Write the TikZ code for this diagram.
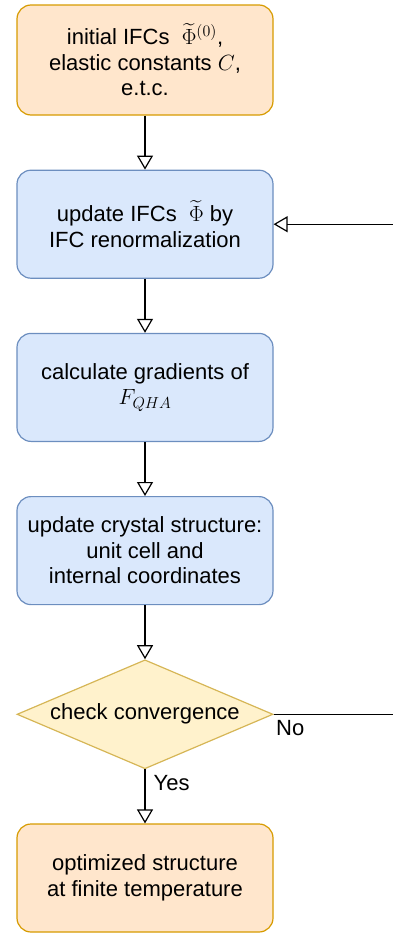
\RequirePackage{fix-cm}
\documentclass[tikz,border=0pt]{standalone}
\usepackage{amsmath}
\usepackage[no-math]{fontspec}
\setmainfont{Liberation Sans}
\usetikzlibrary{arrows.meta, positioning, shapes.geometric}
\DeclareMathSizes{22}{22}{16}{12}

\definecolor{startfill}{HTML}{FFE6CC}
\definecolor{startdraw}{HTML}{D79B00}
\definecolor{stepfill}{HTML}{DAE8FC}
\definecolor{stepdraw}{HTML}{6C8EBF}
\definecolor{checkfill}{HTML}{FFF2CC}
\definecolor{checkdraw}{HTML}{D6B656}

\begin{document}
\begin{tikzpicture}[x=1pt, y=-1pt,
    node distance=54pt,
    box/.style={draw, line width=1.2pt, rounded corners=14pt, minimum width=256pt, minimum height=108pt, align=center, font=\fontsize{22}{25.5}\selectfont},
    termbox/.style={box, fill=startfill, draw=startdraw},
    stepbox/.style={box, fill=stepfill, draw=stepdraw},
    checkbox/.style={diamond, draw=checkdraw, fill=checkfill, line width=1.2pt, aspect=2.35, inner sep=0pt, minimum width=256pt, minimum height=109pt, font=\fontsize{22}{25.5}\selectfont},
    arr/.style={-{Triangle[open, length=14pt, width=16pt]}, line width=1.2pt},
    lbl/.style={font=\fontsize{22}{25.5}\selectfont, inner sep=2pt}
]
\useasboundingbox (0,0) rectangle (392,937);

% Start - initial values
\node[termbox, minimum height=110pt] (init) at (145,60) {initial IFCs \ $\widetilde{\Phi}^{(0)}$,\\elastic constants $C$,\\e.t.c.};

% Iteration steps
\node[stepbox, below=of init] (renorm) {update IFCs \ $\widetilde{\Phi}$ by\\IFC renormalization};
\node[stepbox, below=of renorm] (grad) {calculate gradients of\\$F_{QHA}$};
\node[stepbox, below=of grad] (struct) {update crystal structure:\\unit cell and\\internal coordinates};

% Convergence check
\node[checkbox, below=of struct] (conv) {check convergence};

% End - result
\node[termbox, below=of conv] (final) {optimized structure\\at finite temperature};

% Downward arrows
\draw[arr] (init) -- (renorm);
\draw[arr] (renorm) -- (grad);
\draw[arr] (grad) -- (struct);
\draw[arr] (struct) -- (conv);
\draw[arr] (conv) -- node[lbl, pos=0.25, right=6pt] {Yes} (final);

% Feedback loop when not converged
\coordinate (back) at ([xshift=125pt]conv.east);
\draw[arr] (conv.east) -- node[lbl, pos=0, anchor=north west, yshift=-3pt] {No} (back) |- (renorm.east);

\end{tikzpicture}
\end{document}
